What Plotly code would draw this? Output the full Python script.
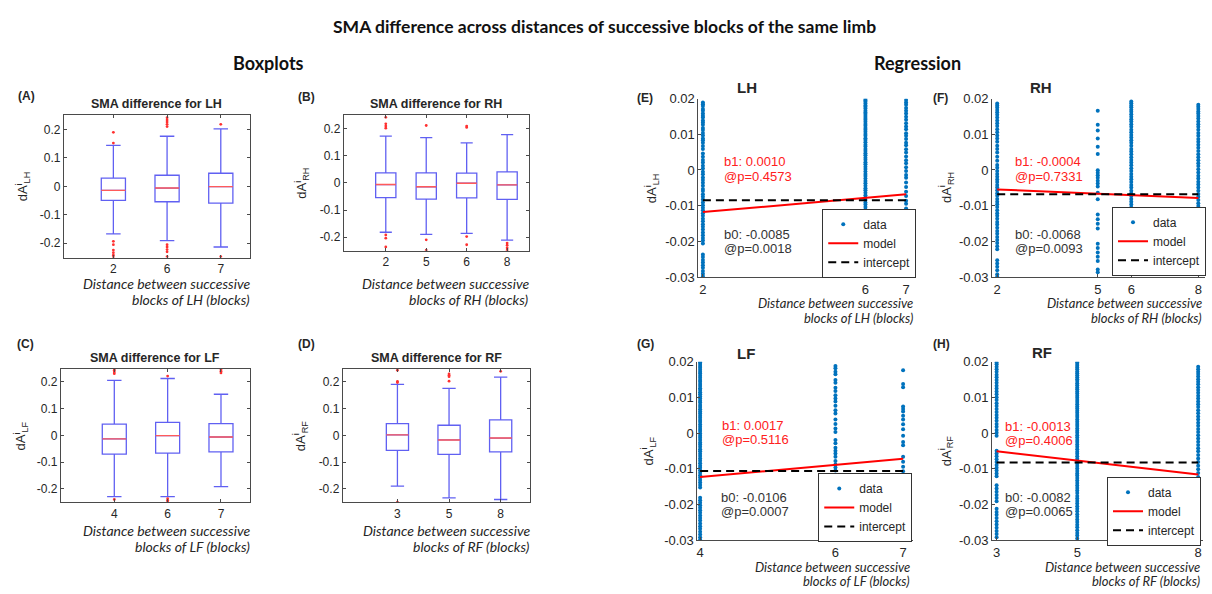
import plotly.graph_objects as go

W, H = 1212, 594

# ---------------- Boxplot summaries (SMA difference per limb) ----------------
LH_dist = ["2", "6", "7"]
LH_q1 = [-0.049, -0.054, -0.059]
LH_med = [-0.014, -0.006, -0.001]
LH_q3 = [0.029, 0.039, 0.046]
LH_lo = [-0.167, -0.191, -0.213]
LH_hi = [0.144, 0.176, 0.202]
LH_out = [[0.190, 0.152, -0.193, -0.205, -0.224, -0.233, -0.242, -0.250],
          [0.241, 0.233, 0.226, 0.218, 0.210, -0.205, -0.213, -0.222, -0.230, -0.247],
          [0.218, -0.247]]

RH_dist = ["2", "5", "6", "8"]
RH_q1 = [-0.054, -0.060, -0.055, -0.061]
RH_med = [-0.006, -0.014, -0.001, -0.007]
RH_q3 = [0.037, 0.037, 0.036, 0.041]
RH_lo = [-0.182, -0.190, -0.186, -0.211]
RH_hi = [0.173, 0.167, 0.148, 0.178]
RH_out = [[0.242, 0.218, 0.210, 0.202, -0.192, -0.204, -0.236],
          [0.212, -0.210, -0.248],
          [0.210, 0.205, -0.198, -0.228],
          [-0.222, -0.230, -0.240, -0.248]]

LF_dist = ["4", "6", "7"]
LF_q1 = [-0.070, -0.066, -0.062]
LF_med = [-0.013, -0.001, -0.006]
LF_q3 = [0.042, 0.049, 0.044]
LF_lo = [-0.229, -0.229, -0.192]
LF_hi = [0.206, 0.213, 0.154]
LF_out = [[0.250, 0.244, 0.237, 0.231, -0.240],
          [0.222, -0.237, -0.243, -0.249],
          [0.246, 0.240, 0.234]]

RF_dist = ["3", "5", "8"]
RF_q1 = [-0.056, -0.071, -0.062]
RF_med = [0.002, -0.017, -0.010]
RF_q3 = [0.044, 0.038, 0.058]
RF_lo = [-0.190, -0.234, -0.240]
RF_hi = [0.191, 0.176, 0.218]
RF_out = [[0.244, 0.202, 0.198, -0.250],
          [0.230, 0.225, 0.220, 0.203],
          [0.240]]

BOX_YTICKS = [-0.2, -0.1, 0, 0.1, 0.2]
BOX_YLABELS = ["-0.2", "-0.1", "0", "0.1", "0.2"]

# ---------------- Regression data (dA values per distance) ----------------
LH_reg_dist = [2, 6, 7]
LH_reg_vals = [
    [0.0189, 0.0184, 0.0179, 0.0171, 0.0166, 0.0158, 0.0152, 0.0147, 0.0139, 0.0133, 0.0127, 0.0118,
     0.0112, 0.0104, 0.0097, 0.0088, 0.0083, 0.0076, 0.0067, 0.0059, 0.0046, 0.0037, 0.0028, 0.0021,
     0.0012, 0.0004, -0.0005, -0.0012, -0.0021, -0.0028, -0.0036, -0.0044, -0.0053, -0.0059, -0.0068,
     -0.0075, -0.0083, -0.0091, -0.0099, -0.0106, -0.0113, -0.0121, -0.0128, -0.0137, -0.0144, -0.0152,
     -0.0159, -0.0167, -0.0175, -0.0183, -0.0191, -0.0198, -0.0206, -0.0237, -0.0244, -0.0252, -0.0259,
     -0.0267, -0.0274, -0.0283, -0.0291, -0.0298],
    [0.0199, 0.0195, 0.0191, 0.0186, 0.0181, 0.0177, 0.0172, 0.0166, 0.0161, 0.0157, 0.0151, 0.0146,
     0.0141, 0.0135, 0.0129, 0.0124, 0.0118, 0.0113, 0.0107, 0.0101, 0.0096, 0.0089, 0.0084, 0.0078,
     0.0071, 0.0066, 0.0059, 0.0053, 0.0047, 0.0041, 0.0034, 0.0029, 0.0022, 0.0016, 0.0009, 0.0003,
     -0.0004, -0.0011, -0.0017, -0.0024, -0.0031, -0.0037, -0.0044, -0.0051, -0.0057, -0.0064, -0.0071,
     -0.0077, -0.0084, -0.0091, -0.0097, -0.0104, -0.0111, -0.0118, -0.0124, -0.0131, -0.0138, -0.0145,
     -0.0151, -0.0158, -0.0165, -0.0172, -0.0178, -0.0185, -0.0192, -0.0199, -0.0206, -0.0213, -0.0219,
     -0.0226, -0.0233, -0.0241, -0.0248, -0.0255, -0.0262, -0.0269, -0.0276, -0.0284, -0.0291, -0.0298],
    [0.0196, 0.0189, 0.0183, 0.0174, 0.0166, 0.0158, 0.0149, 0.0141, 0.0131, 0.0122, 0.0114, 0.0103,
     0.0096, 0.0087, 0.0076, 0.0069, 0.0058, 0.0049, 0.0038, 0.0027, 0.0019, 0.0008, -0.0003, -0.0014,
     -0.0022, -0.0035, -0.0048, -0.0061, -0.0073, -0.0086, -0.0095, -0.0108, -0.0121, -0.0129, -0.0281,
     -0.0292, -0.0299],
]
RH_reg_dist = [2, 5, 6, 8]
RH_reg_vals = [
    [0.0186, 0.0181, 0.0175, 0.0168, 0.0162, 0.0155, 0.0147, 0.0139, 0.0131, 0.0123, 0.0114, 0.0106,
     0.0097, 0.0088, 0.0079, 0.0068, 0.0059, 0.0049, 0.0037, 0.0026, 0.0014, 0.0006, -0.0003, -0.0011,
     -0.0019, -0.0027, -0.0034, -0.0042, -0.0049, -0.0057, -0.0065, -0.0072, -0.0081, -0.0089, -0.0096,
     -0.0104, -0.0113, -0.0121, -0.0128, -0.0137, -0.0146, -0.0153, -0.0162, -0.0171, -0.0179, -0.0188,
     -0.0196, -0.0205, -0.0214, -0.0222, -0.0253, -0.0262, -0.0271, -0.0281, -0.0292, -0.0299],
    [0.0166, 0.0127, 0.0111, 0.0088, 0.0065, 0.0045, -0.0001, -0.0008, -0.0015, -0.0022, -0.0030,
     -0.0038, -0.0046, -0.0064, -0.0082, -0.0125, -0.0138, -0.0151, -0.0164, -0.0207, -0.0219, -0.0231,
     -0.0243, -0.0255, -0.0279, -0.0287],
    [0.0192, 0.0187, 0.0181, 0.0176, 0.0169, 0.0163, 0.0156, 0.0149, 0.0142, 0.0136, 0.0128, 0.0121,
     0.0113, 0.0106, 0.0098, 0.0091, 0.0083, 0.0076, 0.0068, 0.0059, 0.0052, 0.0044, 0.0036, 0.0028,
     0.0021, 0.0013, 0.0005, -0.0003, -0.0011, -0.0019, -0.0026, -0.0034, -0.0042, -0.0049, -0.0058,
     -0.0066, -0.0073, -0.0081, -0.0089, -0.0097, -0.0105, -0.0113, -0.0121, -0.0129, -0.0137, -0.0146,
     -0.0154, -0.0163, -0.0171, -0.0179, -0.0188, -0.0197, -0.0206, -0.0214, -0.0223, -0.0232, -0.0241,
     -0.0251, -0.0262, -0.0274, -0.0287],
    [0.0183, 0.0177, 0.0171, 0.0164, 0.0158, 0.0151, 0.0144, 0.0136, 0.0128, 0.0121, 0.0113, 0.0104,
     0.0096, 0.0087, 0.0079, 0.0071, 0.0062, 0.0053, 0.0044, 0.0036, 0.0027, 0.0019, 0.0011, 0.0002,
     -0.0007, -0.0016, -0.0024, -0.0033, -0.0041, -0.0049, -0.0058, -0.0067, -0.0075, -0.0084, -0.0093,
     -0.0101, -0.0112, -0.0124, -0.0136, -0.0148, -0.0161, -0.0174, -0.0186, -0.0199, -0.0213, -0.0226,
     -0.0238, -0.0251, -0.0263, -0.0276, -0.0284],
]
LF_reg_dist = [4, 6, 7]
LF_reg_vals = [
    [0.0199, 0.0194, 0.0188, 0.0183, 0.0178, 0.0172, 0.0167, 0.0161, 0.0155, 0.0149, 0.0144, 0.0138,
     0.0132, 0.0126, 0.0121, 0.0115, 0.0109, 0.0103, 0.0097, 0.0091, 0.0086, 0.0079, 0.0073, 0.0067,
     0.0061, 0.0055, 0.0049, 0.0043, 0.0037, 0.0031, 0.0024, 0.0018, 0.0012, 0.0006, -0.0001, -0.0007,
     -0.0013, -0.0019, -0.0026, -0.0032, -0.0038, -0.0045, -0.0051, -0.0058, -0.0064, -0.0071, -0.0077,
     -0.0084, -0.0091, -0.0097, -0.0104, -0.0111, -0.0118, -0.0124, -0.0131, -0.0138, -0.0145, -0.0152,
     -0.0181, -0.0188, -0.0195, -0.0202, -0.0209, -0.0216, -0.0223, -0.0231, -0.0238, -0.0245, -0.0253,
     -0.0261, -0.0268, -0.0276, -0.0284, -0.0292, -0.0299],
    [0.0188, 0.0182, 0.0172, 0.0165, 0.0149, 0.0141, 0.0127, 0.0118, 0.0106, 0.0097, 0.0089, 0.0077,
     0.0064, 0.0055, 0.0038, 0.0026, 0.0013, 0.0003, -0.0019, -0.0028, -0.0041, -0.0049, -0.0057,
     -0.0066, -0.0078, -0.0088, -0.0096, -0.0105, -0.0124, -0.0269, -0.0278],
    [0.0176, 0.0138, 0.0129, 0.0075, 0.0068, 0.0061, 0.0049, 0.0038, 0.0025, 0.0011, -0.0007, -0.0025,
     -0.0034, -0.0066, -0.0080, -0.0094, -0.0107, -0.0121, -0.0136, -0.0289, -0.0297],
]
RF_reg_dist = [3, 5, 8]
RF_reg_vals = [
    [0.0198, 0.0193, 0.0186, 0.0179, 0.0172, 0.0164, 0.0157, 0.0149, 0.0141, 0.0133, 0.0125, 0.0117,
     0.0109, 0.0101, 0.0093, 0.0084, 0.0076, 0.0068, 0.0059, 0.0051, 0.0043, 0.0035, 0.0026, 0.0018,
     0.0009, 0.0001, -0.0007, -0.0049, -0.0057, -0.0065, -0.0073, -0.0081, -0.0089, -0.0097, -0.0105,
     -0.0113, -0.0121, -0.0146, -0.0155, -0.0164, -0.0173, -0.0182, -0.0191, -0.0212, -0.0221, -0.0229,
     -0.0238, -0.0247, -0.0256, -0.0265, -0.0274, -0.0283, -0.0292],
    [0.0199, 0.0194, 0.0189, 0.0184, 0.0179, 0.0173, 0.0168, 0.0162, 0.0157, 0.0151, 0.0146, 0.0140,
     0.0134, 0.0128, 0.0123, 0.0117, 0.0111, 0.0105, 0.0099, 0.0093, 0.0087, 0.0081, 0.0075, 0.0069,
     0.0063, 0.0057, 0.0051, 0.0045, 0.0038, 0.0032, 0.0026, 0.0020, 0.0013, 0.0007, 0.0001, -0.0006,
     -0.0012, -0.0019, -0.0025, -0.0032, -0.0038, -0.0045, -0.0052, -0.0058, -0.0065, -0.0072, -0.0078,
     -0.0085, -0.0092, -0.0099, -0.0106, -0.0113, -0.0119, -0.0126, -0.0133, -0.0140, -0.0147, -0.0154,
     -0.0161, -0.0168, -0.0176, -0.0183, -0.0190, -0.0197, -0.0205, -0.0212, -0.0219, -0.0227, -0.0234,
     -0.0242, -0.0249, -0.0257, -0.0264, -0.0272, -0.0280, -0.0287, -0.0295],
    [0.0186, 0.0179, 0.0172, 0.0166, 0.0159, 0.0151, 0.0144, 0.0137, 0.0129, 0.0121, 0.0113, 0.0105,
     0.0097, 0.0089, 0.0081, 0.0073, 0.0064, 0.0056, 0.0047, 0.0038, 0.0029, 0.0021, 0.0012, 0.0003,
     -0.0006, -0.0015, -0.0024, -0.0033, -0.0042, -0.0051, -0.0061, -0.0071, -0.0081, -0.0091, -0.0101,
     -0.0112, -0.0123, -0.0134, -0.0145, -0.0157, -0.0169, -0.0181, -0.0193, -0.0205, -0.0218, -0.0231,
     -0.0244, -0.0257, -0.0269, -0.0281, -0.0294],
]

# Fitted coefficients (slope b1, intercept b0) with p-values; model centred on xc
LH_b1, LH_p1, LH_b0, LH_p0, LH_xc = 0.0010, 0.4573, -0.0085, 0.0018, 5.3
RH_b1, RH_p1, RH_b0, RH_p0, RH_xc = -0.0004, 0.7331, -0.0068, 0.0093, 5.4
LF_b1, LF_p1, LF_b0, LF_p0, LF_xc = 0.0017, 0.5116, -0.0106, 0.0007, 5.0
RF_b1, RF_p1, RF_b0, RF_p0, RF_xc = -0.0013, 0.4006, -0.0082, 0.0065, 5.4

REG_YTICKS = [-0.03, -0.02, -0.01, 0, 0.01, 0.02]
REG_YLABELS = ["-0.03", "-0.02", "-0.01", "0", "0.01", "0.02"]

# ---------------- styling ----------------
AXC = "#4a4a4a"
TXT = "#262626"
BOX_BLUE = "#6060f2"
MED_RED = "#ff5a5a"
OUT_RED = "#ff3030"
DOT_BLUE = "#0072BD"
SANS = "Liberation Sans, Arial, sans-serif"
HEAD = "Lato, Open Sans, sans-serif"


def xdom(x0, x1):
    return [x0 / W, x1 / W]


def ydom(y0, y1):
    return [1 - y1 / H, 1 - y0 / H]


def px(x):
    return x / W


def py(y):
    return 1 - y / H


def axname(k, a):
    return f"{a}axis" if k == 1 else f"{a}axis{k}"


def axref(k, a):
    return a if k == 1 else f"{a}{k}"


fig = go.Figure()
layout = {}
annotations = []


def ann(x, y, text, size, color=TXT, family=SANS, xanchor="center", yanchor="middle",
        angle=0, align="center"):
    annotations.append(dict(x=px(x), y=py(y), xref="paper", yref="paper", text=text,
                            showarrow=False, xanchor=xanchor, yanchor=yanchor,
                            textangle=angle, align=align,
                            font=dict(size=size, color=color, family=family)))


# ---------------- boxplot panels ----------------
box_panels = [
    # k, label, limb, dist, q1, med, q3, lo, hi, outliers, box(x0,y0,x1,y1), xrange, width, letter pos, ytitle x
    (1, "(A)", "LH", LH_dist, LH_q1, LH_med, LH_q3, LH_lo, LH_hi, LH_out, (63, 111, 249, 257), [0.08, 3.54], 0.45, (26, 91), 22),
    (2, "(B)", "RH", RH_dist, RH_q1, RH_med, RH_q3, RH_lo, RH_hi, RH_out, (343, 111, 528, 250), [-0.04, 4.53], 0.5, (306, 92), 301),
    (3, "(C)", "LF", LF_dist, LF_q1, LF_med, LF_q3, LF_lo, LF_hi, LF_out, (60, 371, 249, 508), [0.0, 3.54], 0.45, (25, 346), 20),
    (4, "(D)", "RF", RF_dist, RF_q1, RF_med, RF_q3, RF_lo, RF_hi, RF_out, (342, 371, 529, 508), [-0.06, 3.56], 0.43, (306, 346), 300),
]

for (k, letter, limb, dist, q1, med, q3, lo, hi, outs, box, xr, bw, lpos, ytx) in box_panels:
    pos = list(range(1, len(dist) + 1))
    xa, ya = axref(k, "x"), axref(k, "y")
    fig.add_trace(go.Box(x=pos, q1=q1, median=med, q3=q3, lowerfence=lo, upperfence=hi,
                         width=bw, whiskerwidth=0.6, boxpoints=False,
                         line=dict(color=BOX_BLUE, width=1.3), fillcolor="rgba(0,0,0,0)",
                         xaxis=xa, yaxis=ya, showlegend=False, hoverinfo="skip"))
    mx, my = [], []
    for p, m in zip(pos, med):
        mx += [p - bw / 2, p + bw / 2, None]
        my += [m, m, None]
    fig.add_trace(go.Scatter(x=mx, y=my, mode="lines", line=dict(color=MED_RED, width=1.4),
                             xaxis=xa, yaxis=ya, showlegend=False, hoverinfo="skip"))
    ox, oy = [], []
    for p, vals in zip(pos, outs):
        ox += [p] * len(vals)
        oy += vals
    fig.add_trace(go.Scatter(x=ox, y=oy, mode="markers", marker=dict(color=OUT_RED, size=2.8),
                             xaxis=xa, yaxis=ya, showlegend=False, hoverinfo="skip"))

    x0, y0, x1, y1 = box
    layout[axname(k, "x")] = dict(domain=xdom(x0, x1), range=xr, anchor=ya,
                                  tickvals=pos, ticktext=dist, ticks="inside", ticklen=3,
                                  tickcolor=AXC, showline=True, linecolor=AXC, linewidth=1,
                                  mirror="ticks", showgrid=False, zeroline=False,
                                  tickfont=dict(family=SANS, size=12, color=TXT))
    layout[axname(k, "y")] = dict(domain=ydom(y0, y1), range=[-0.25, 0.25], anchor=xa,
                                  tickvals=BOX_YTICKS, ticktext=BOX_YLABELS, ticks="inside",
                                  ticklen=3, tickcolor=AXC, showline=True, linecolor=AXC,
                                  linewidth=1, mirror="ticks", showgrid=False, zeroline=False,
                                  tickfont=dict(family=SANS, size=12, color=TXT))
    ann(lpos[0], lpos[1], f"<b>{letter}</b>", 12)
    ann((x0 + x1) / 2, y0 - 11, f"<b>SMA difference for {limb}</b>", 12.5)
    ann(ytx, (y0 + y1) / 2, f"dA<sup>i</sup><sub>{limb}</sub>", 13, angle=-90)
    ty = 284 if k <= 2 else 537
    ann(x1 + 2, ty, "<i>Distance between successive</i>", 14, family=HEAD, xanchor="right")
    ann(x1 + 2, ty + 16, f"<i>blocks of {limb} (blocks)</i>", 14, family=HEAD, xanchor="right")

# ---------------- regression panels ----------------
reg_panels = [
    # k, letter, limb, dist, vals, b1, p1, b0, p0, xc, box, xrange, letter pos, title pos, ytitle x,
    # b1 text pos, b0 text pos, legend right/top
    (5, "(E)", "LH", LH_reg_dist, LH_reg_vals, LH_b1, LH_p1, LH_b0, LH_p0, LH_xc,
     (698, 94, 916, 277), [1.89, 7.25], (645, 93), (747, 83), 651, (722, 159), (722, 233), (916, 207)),
    (6, "(F)", "RH", RH_reg_dist, RH_reg_vals, RH_b1, RH_p1, RH_b0, RH_p0, RH_xc,
     (992, 94, 1205, 277), [1.85, 8.2], (940, 93), (1041, 83), 946, (1013, 159), (1013, 233), (1206, 205)),
    (7, "(G)", "LF", LF_reg_dist, LF_reg_vals, LF_b1, LF_p1, LF_b0, LF_p0, LF_xc,
     (697, 364, 913, 547), [3.96, 7.15], (645, 346), (746, 355), 648, (720, 429), (719, 503), (912, 478)),
    (8, "(H)", "RF", RF_reg_dist, RF_reg_vals, RF_b1, RF_p1, RF_b0, RF_p0, RF_xc,
     (992, 364, 1203, 547), [2.89, 8.12], (941, 346), (1042, 354), 946, (1003, 430), (1003, 503), (1201, 482)),
]

for i, (k, letter, limb, dist, vals, b1, p1, b0, p0, xc, box, xr, lpos, tpos, ytx,
        b1pos, b0pos, legpos) in enumerate(reg_panels):
    xa, ya = axref(k, "x"), axref(k, "y")
    lg = "legend" if i == 0 else f"legend{i + 1}"
    dx, dy = [], []
    for d, v in zip(dist, vals):
        dx += [d] * len(v)
        dy += v
    fig.add_trace(go.Scatter(x=dx, y=dy, mode="markers", name="data",
                             marker=dict(color=DOT_BLUE, size=4),
                             xaxis=xa, yaxis=ya, legend=lg, hoverinfo="skip"))
    lx = [min(dist), max(dist)]
    fig.add_trace(go.Scatter(x=lx, y=[b0 + b1 * (x - xc) for x in lx], mode="lines", name="model",
                             line=dict(color="#FF0000", width=2),
                             xaxis=xa, yaxis=ya, legend=lg, hoverinfo="skip"))
    fig.add_trace(go.Scatter(x=lx, y=[b0, b0], mode="lines", name="intercept",
                             line=dict(color="#000000", width=2, dash="8px,5px"),
                             xaxis=xa, yaxis=ya, legend=lg, hoverinfo="skip"))

    x0, y0, x1, y1 = box
    layout[axname(k, "x")] = dict(domain=xdom(x0, x1), range=xr, anchor=ya,
                                  tickvals=dist, ticktext=[str(d) for d in dist],
                                  ticks="inside", ticklen=3, tickcolor=AXC, showline=True,
                                  linecolor=AXC, linewidth=1, showgrid=False, zeroline=False,
                                  tickfont=dict(family=SANS, size=13, color=TXT))
    layout[axname(k, "y")] = dict(domain=ydom(y0, y1), range=[-0.03, 0.02], anchor=xa,
                                  tickvals=REG_YTICKS, ticktext=REG_YLABELS, ticks="inside",
                                  ticklen=3, tickcolor=AXC, showline=True, linecolor=AXC,
                                  linewidth=1, showgrid=False, zeroline=False,
                                  tickfont=dict(family=SANS, size=13, color=TXT))
    layout[lg] = dict(x=px(legpos[0]), y=py(legpos[1]), xanchor="right", yanchor="top",
                      bgcolor="white", bordercolor="#333", borderwidth=1,
                      font=dict(family=SANS, size=12, color=TXT), itemwidth=30,
                      tracegroupgap=0)

    ann(lpos[0], lpos[1], f"<b>{letter}</b>", 12)
    ann(tpos[0], tpos[1], f"<b>{limb}</b>", 15)
    ann(ytx, (y0 + y1) / 2, f"dA<sup>i</sup><sub>{limb}</sub>", 13, angle=-90)
    ann(b1pos[0], b1pos[1], f"b1: {b1:.4f}", 13, color="#FF2020", xanchor="left")
    ann(b1pos[0], b1pos[1] + 15, f"@p={p1:.4f}", 13, color="#FF2020", xanchor="left")
    ann(b0pos[0], b0pos[1], f"b0: {b0:.4f}", 13, color="#333333", xanchor="left")
    ann(b0pos[0], b0pos[1] + 15, f"@p={p0:.4f}", 13, color="#333333", xanchor="left")
    ty = 304 if k <= 6 else 574
    ann(x1 - 1, ty, "<i>Distance between successive</i>", 13, family=HEAD, xanchor="right")
    ann(x1 - 1, ty + 15, f"<i>blocks of {limb} (blocks)</i>", 13, family=HEAD, xanchor="right")

# ---------------- headings ----------------
ann(604, 20, "<b>SMA difference across distances of successive blocks of the same limb</b>", 17.5, family=HEAD, color="#111")
ann(268, 57, "<b>Boxplots</b>", 18, family=HEAD, color="#111")
ann(917, 57, "<b>Regression</b>", 18, family=HEAD, color="#111")

fig.update_layout(width=W, height=H, autosize=False, margin=dict(l=0, r=0, t=0, b=0),
                  paper_bgcolor="white", plot_bgcolor="white",
                  annotations=annotations, **layout)

fig.write_html("out.html")
